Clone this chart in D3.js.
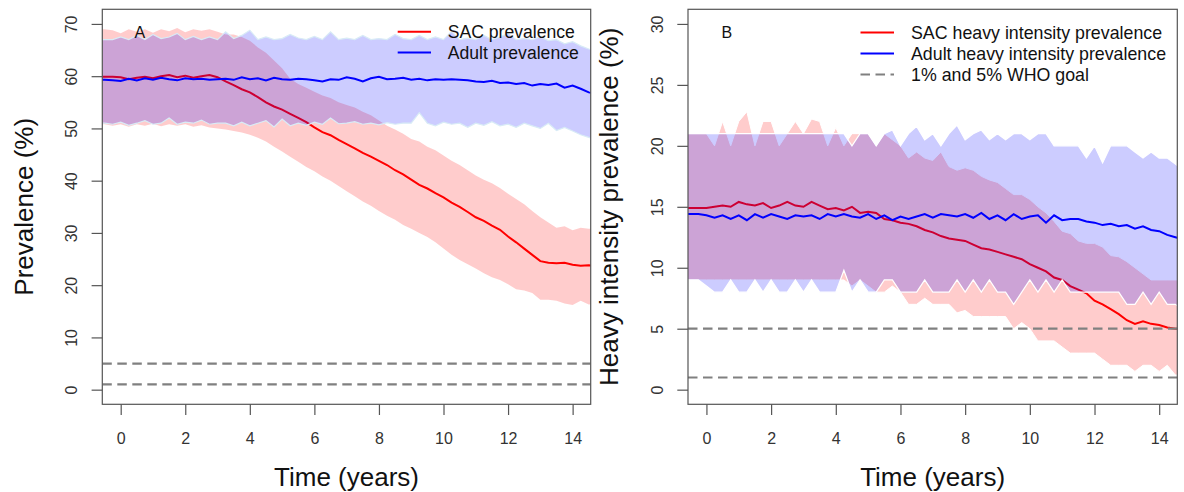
<!DOCTYPE html>
<html>
<head>
<meta charset="utf-8">
<script src="https://cdn.jsdelivr.net/npm/d3@7"></script>
<style>
  html, body { margin: 0; padding: 0; background: #fff; }
  svg { display: block; }
  text { font-family: "Liberation Sans", Arial, Helvetica, sans-serif; }
</style>
</head>
<body>
<svg id="chart" width="1184" height="492"></svg>
<script>
// ---------------- DATA ----------------
const times = [-0.75,-0.5,-0.25,0,0.25,0.5,0.75,1,1.25,1.5,1.75,2,2.25,2.5,2.75,3,3.25,3.5,3.75,4,4.25,4.5,4.75,5,5.25,5.5,5.75,6,6.25,6.5,6.75,7,7.25,7.5,7.75,8,8.25,8.5,8.75,9,9.25,9.5,9.75,10,10.25,10.5,10.75,11,11.25,11.5,11.75,12,12.25,12.5,12.75,13,13.25,13.5,13.75,14,14.25,14.5,14.75];

const xTicks = [0,2,4,6,8,10,12,14];
const yTicksA = [0,10,20,30,40,50,60,70];
const yTicksB = [0,5,10,15,20,25,30];
const whoGoals = [1,5];

// Panel A: prevalence (%)
const sacPrevA = [59.9,59.9,59.9,
 59.8,59.4,59.7,59.9, 59.6,60.0,60.2,59.8, 60.1,59.7,60.0,60.2, 59.8,59.0,58.3,57.5,
 56.9,56.0,55.0,54.2, 53.6,52.8,52.0,51.2, 50.2,49.3,48.7,47.8, 47.0,46.2,45.3,44.6,
 43.8,43.0,42.0,41.2, 40.2,39.2,38.5,37.6, 36.8,35.8,35.0,34.0, 33.0,32.3,31.4,30.6,
 29.3,28.2,27.0,25.8, 24.6,24.3,24.2,24.3, 23.9,23.7,23.8,23.6];
const sacHiA = [69.0,69.0,68.8,
 68.2,69.0,68.5,69.0, 68.3,69.0,68.6,69.2, 68.4,69.0,68.7,69.0, 68.5,68.0,68.0,67.5,
 66.8,65.5,64.5,63.0, 61.5,59.5,58.5,57.8, 57.0,56.3,55.8,55.0, 54.5,54.0,53.2,52.5,
 51.5,50.5,49.8,49.0, 48.0,47.5,46.5,45.8, 44.8,43.8,43.0,42.0, 41.0,40.2,39.5,38.6,
 37.5,36.5,35.5,34.2, 33.0,32.0,31.0,31.3, 30.5,31.0,30.8,30.8];
const sacLoA = [50.8,50.8,50.5,
 50.8,50.3,50.8,50.5, 50.9,50.4,50.8,50.5, 50.8,50.3,50.6,50.2, 50.0,49.8,49.5,49.2,
 48.8,48.2,47.5,46.5, 45.6,44.6,43.6,42.6, 41.8,40.8,40.0,39.0, 38.0,37.0,36.0,35.2,
 34.2,33.3,32.5,31.5, 30.8,30.0,29.2,28.2, 27.0,25.8,24.8,24.0, 23.2,22.3,21.5,21.0,
 20.2,19.2,19.0,18.5, 17.2,17.2,17.0,16.5, 16.2,17.0,16.3,16.5];
const adultPrevA = [59.3,59.3,59.2,
 59.1,59.5,59.2,59.6, 59.3,59.7,59.4,59.2, 59.6,59.4,59.5,59.3, 59.4,59.5,59.3,59.8,
 59.4,59.6,59.2,59.7, 59.4,59.3,59.5,59.4, 59.2,59.0,59.4,59.3, 59.8,59.5,59.0,59.6,
 59.9,59.4,59.5,59.7, 59.3,59.5,59.2,59.4, 59.3,59.4,59.3,59.2, 59.0,58.9,59.1,58.7,
 58.8,58.5,58.7,58.2, 58.5,58.3,58.6,57.8, 58.2,57.6,56.9,56.6];
const adultHiA = [67.0,67.0,67.0,
 67.5,67.0,67.8,67.0, 68.0,67.2,67.5,68.2, 67.0,67.6,67.0,67.5, 67.0,68.5,67.2,67.8,
 68.8,67.0,67.5,67.0, 67.2,68.0,67.3,67.0, 67.6,67.0,68.5,67.0, 67.3,67.0,67.8,67.0,
 67.2,67.0,68.0,67.2, 67.0,67.8,67.0,67.5, 67.0,68.6,67.0,67.3, 67.0,67.8,67.0,67.5,
 68.2,67.0,67.2,67.0, 67.5,66.8,67.0,66.2, 66.6,65.8,65.2,65.0];
const adultLoA = [51.0,51.0,50.8,
 51.2,50.6,51.0,51.5, 50.8,51.0,52.0,50.8, 51.2,51.0,51.6,50.8, 51.0,51.0,50.5,51.2,
 50.5,51.0,51.5,50.3, 51.8,50.5,51.0,50.6, 51.2,50.8,52.0,50.9, 51.0,51.3,50.8,51.0,
 50.7,51.1,50.8,51.0, 51.0,53.0,51.0,50.5, 51.2,50.8,51.0,50.2, 51.0,50.6,51.3,50.5,
 50.8,50.2,51.0,50.5, 50.0,51.0,49.6,50.2, 49.5,48.8,48.3,47.6];

// Panel B: heavy intensity prevalence (%)
const sacHeavyB = [14.9,14.9,14.9,
 14.9,15.0,15.1,15.0, 15.4,15.2,15.1,15.3, 14.9,15.1,15.4,15.1, 15.0,15.4,15.1,14.8,
 14.9,14.7,15.0,14.5, 14.6,14.5,14.0,13.9, 13.7,13.6,13.4,13.1, 12.9,12.6,12.4,12.3,
 12.2,11.9,11.6,11.5, 11.3,11.1,10.9,10.7, 10.3,10.0,9.7,9.2, 9.0,8.5,8.2,7.9,
 7.3,7.0,6.6,6.2, 5.7,5.4,5.6,5.4, 5.3,5.1,5.0,5.0];
const sacHeavyHiB = [21,21,21,
 21,20,22,20, 22,22.8,20,22, 22,20,21,22, 21,22.2,22,20,
 21.5,20,21,21, 21,20,21,20.5, 20,19,19.5,19, 18.8,19.5,18.3,18,
 18.2,18,17.5,17.2, 17,16.5,16,16, 15.6,15,14.5,13.8, 13,12.8,12.2,12,
 12,11.7,11,10.9, 10.5,10,9.5,9, 9,9,9,9];
const sacHeavyLoB = [9,9,9,
 9,9,9,9, 9,9,9,9, 9,9,9,9, 9,9,9,9,
 9,9,8.5,9, 8.5,8,8,8.5, 8,7,7,7.5, 7,7,7,6.3,
 6.5,6,6,6, 6,6,5,5.5, 5,4,4,4, 3.5,3,3,3,
 3,2.5,2,2, 2,1.5,2,2, 1.5,2,1.2,1.2];
const adultHeavyB = [14.4,14.4,14.4,
 14.3,14.1,14.3,14.0, 14.3,13.9,14.4,14.1, 14.4,14.2,14.0,14.3, 14.2,14.3,14.0,14.4,
 14.2,14.4,14.2,14.1, 14.4,14.0,14.3,13.9, 14.2,14.0,14.2,14.4, 14.1,14.4,14.3,14.2,
 14.4,14.1,14.5,14.0, 14.3,13.9,14.4,14.0, 14.2,14.3,13.7,14.3, 13.9,14.0,14.0,13.8,
 13.7,13.5,13.6,13.4, 13.5,13.2,13.4,13.1, 13.0,12.7,12.5,12.3];
const adultHeavyHiB = [21,21,21,
 21,21,21,21, 21,21,21,21, 21,21,21,21, 21,21,21,21,
 21,21,20,21, 21,20,21,21.3, 20,21,21.6,20.5, 21,20,21,21.7,
 20.5,21,21.3,20.5, 21,20.5,21,21, 20.5,21,21,20, 20,20,20,19,
 20,18.6,20,20, 20,19.5,19,19.5, 19,19,18.5,18];
const adultHeavyLoB = [9,9,9,
 8.5,8,8,9, 8,8,9,8, 9,8,8,9, 8,9,8,8,
 8,9.8,8,9, 8,8,9,9, 8,8,8,9, 8,8,8,9,
 8,9,8,9, 8,8,7,8, 9,8,9,8, 9,8,8,8,
 8,8,8,8, 7,7,8,7, 8,7,7,6.5];

// ---------------- DRAWING ----------------
const svg = d3.select("#chart");
const FONT = '"Liberation Sans", Arial, Helvetica, sans-serif';

const panels = [
  {
    id: "A", left: 102.3, right: 590.7, top: 9.3, bottom: 404.3,
    yDomain: [-2.8, 72.8], yTicks: yTicksA,
    ylab: "Prevalence (%)", ylabX: 32.5,
    sac: sacPrevA, sacLo: sacLoA, sacHi: sacHiA,
    adult: adultPrevA, adultLo: adultLoA, adultHi: adultHiA,
    blueStroke: "#d8ebf6", redStroke: "none",
    legend: { x1: 397.7, x2: 431, tx: 447.7, y0: 31.8, dy: 20.8, size: 17.6,
      items: [["SAC prevalence","red","solid"],["Adult prevalence","blue","solid"]] }
  },
  {
    id: "B", left: 688, right: 1177.3, top: 9.3, bottom: 404.3,
    yDomain: [-1.2, 31.2], yTicks: yTicksB,
    ylab: "Heavy intensity prevalence (%)", ylabX: 618,
    sac: sacHeavyB, sacLo: sacHeavyLoB, sacHi: sacHeavyHiB,
    adult: adultHeavyB, adultLo: adultHeavyLoB, adultHi: adultHeavyHiB,
    blueStroke: "#ffffff", redStroke: "#ffffff",
    legend: { x1: 860.5, x2: 894, tx: 911, y0: 32.5, dy: 21, size: 17.8,
      items: [["SAC heavy intensity prevalence","red","solid"],
              ["Adult heavy intensity prevalence","blue","solid"],
              ["1% and 5% WHO goal","#808080","dash"]] }
  }
];

panels.forEach((p, pi) => {
  const x = d3.scaleLinear().domain([-0.57, 14.56]).range([p.left, p.right]);
  const y = d3.scaleLinear().domain(p.yDomain).range([p.bottom, p.top]);
  const g = svg.append("g");

  const clipId = "clip" + p.id;
  svg.append("defs").append("clipPath").attr("id", clipId)
    .append("rect").attr("x", p.left).attr("y", p.top)
    .attr("width", p.right - p.left).attr("height", p.bottom - p.top);

  const plot = g.append("g").attr("clip-path", `url(#${clipId})`);

  const band = (lo, hi) => d3.area()
    .x((d, i) => x(times[i]))
    .y0((d, i) => y(lo[i]))
    .y1((d, i) => y(hi[i]))(times);
  const line = (vals) => d3.line()
    .x((d, i) => x(times[i]))
    .y((d, i) => y(vals[i]))(times);

  // SAC band + line
  plot.append("path").attr("d", band(p.sacLo, p.sacHi))
    .attr("fill", "rgba(255,0,0,0.2)")
    .attr("stroke", p.redStroke).attr("stroke-width", 1);
  plot.append("path").attr("d", line(p.sac))
    .attr("fill", "none").attr("stroke", "#ff0000").attr("stroke-width", 2);
  // Adult band + line
  plot.append("path").attr("d", band(p.adultLo, p.adultHi))
    .attr("fill", "rgba(0,0,255,0.2)")
    .attr("stroke", p.blueStroke).attr("stroke-width", 1.2);
  plot.append("path").attr("d", line(p.adult))
    .attr("fill", "none").attr("stroke", "#0000ff").attr("stroke-width", 2);

  // WHO goal dashed lines
  plot.selectAll("line.goal").data(whoGoals).enter().append("line")
    .attr("class", "goal")
    .attr("x1", p.left).attr("x2", p.right)
    .attr("y1", d => y(d)).attr("y2", d => y(d))
    .attr("stroke", "#808080").attr("stroke-width", 2.2)
    .attr("stroke-dasharray", "9.5,5.5");

  // Box
  g.append("rect").attr("x", p.left).attr("y", p.top)
    .attr("width", p.right - p.left).attr("height", p.bottom - p.top)
    .attr("fill", "none").attr("stroke", "#555").attr("stroke-width", 1.2);

  // X axis
  const xAxis = d3.axisBottom(x).tickValues(xTicks).tickSize(10.7).tickPadding(0)
    .tickFormat(d3.format("d"));
  const xg = g.append("g").attr("transform", `translate(0,${p.bottom})`).call(xAxis);
  xg.select(".domain").remove();
  xg.selectAll(".tick line").attr("stroke", "#555").attr("stroke-width", 1.2);
  xg.selectAll(".tick text").attr("y", 40).attr("dy", 0)
    .attr("font-size", 16).attr("font-family", FONT).attr("fill", "#333");

  // Y axis
  const yAxis = d3.axisLeft(y).tickValues(p.yTicks).tickSize(10.7).tickPadding(0)
    .tickFormat(d3.format("d"));
  const yg = g.append("g").attr("transform", `translate(${p.left},0)`).call(yAxis);
  yg.select(".domain").remove();
  yg.selectAll(".tick line").attr("stroke", "#555").attr("stroke-width", 1.2);
  yg.selectAll(".tick text")
    .attr("x", null).attr("dy", null)
    .attr("transform", "translate(-25.3,0) rotate(-90)")
    .attr("text-anchor", "middle")
    .attr("font-size", 16).attr("font-family", FONT).attr("fill", "#333");

  // Axis titles
  g.append("text").attr("x", (p.left + p.right) / 2 - 0).attr("y", 486)
    .attr("text-anchor", "middle").attr("font-size", 26).attr("fill", "#111")
    .text("Time (years)");
  g.append("text")
    .attr("transform", `translate(${p.ylabX},${(p.top + p.bottom) / 2}) rotate(-90)`)
    .attr("text-anchor", "middle").attr("font-size", 26).attr("fill", "#111")
    .text(p.ylab);

  // Panel letter
  g.append("text").attr("x", pi === 0 ? 134.5 : 721.5).attr("y", 37.7)
    .attr("font-size", 16).attr("fill", "#111").text(p.id);

  // Legend
  const L = p.legend;
  L.items.forEach((it, k) => {
    const yy = L.y0 + k * L.dy;
    g.append("line").attr("x1", L.x1).attr("x2", L.x2).attr("y1", yy).attr("y2", yy)
      .attr("stroke", it[1]).attr("stroke-width", 2)
      .attr("stroke-dasharray", it[2] === "dash" ? "9.5,5.5" : null);
    g.append("text").attr("x", L.tx).attr("y", yy).attr("dy", "0.36em")
      .attr("font-size", L.size).attr("fill", "#111").text(it[0]);
  });
});
</script>
</body>
</html>
